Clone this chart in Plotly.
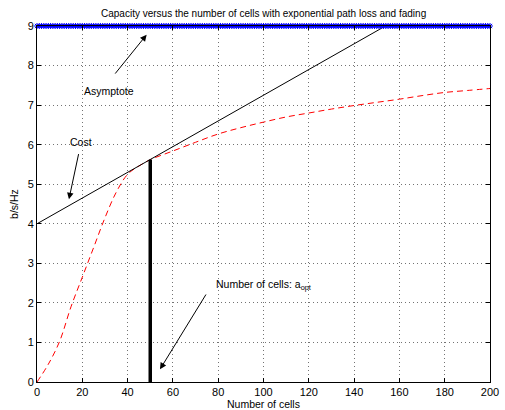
import plotly.graph_objects as go

# Capacity curve (red dashed)
cap_x = [0, 5, 10, 15, 20, 25, 30, 35, 40, 45, 50, 60, 70, 80, 90, 100,
         110, 120, 130, 140, 150, 160, 170, 180, 190, 200]
cap_y = [0, 0.45, 1.03, 1.9, 2.65, 3.4, 4.15, 4.8, 5.25, 5.46, 5.62, 5.84, 6.06, 6.27, 6.43, 6.57,
         6.70, 6.80, 6.90, 6.99, 7.07, 7.15, 7.24, 7.32, 7.37, 7.42]

# Cost line (black)
cost_x = [0, 200]
cost_y = [4.0, 10.5]

# Asymptote (blue markers)
asym_x = list(range(0, 201))
asym_y = [9.0] * len(asym_x)

# Optimal number of cells
a_opt = 50
a_opt_cap = 5.62

x_ticks = list(range(0, 201, 20))
y_ticks = list(range(0, 10))

FONT = "Liberation Sans, Arial, sans-serif"

fig = go.Figure()
fig.add_trace(go.Scatter(x=cap_x, y=cap_y, mode="lines", line=dict(color="red", width=1, dash="6px,4px"),
                         line_shape="spline", hoverinfo="skip"))
fig.add_trace(go.Scatter(x=cost_x, y=cost_y, mode="lines", line=dict(color="black", width=1), hoverinfo="skip"))
fig.add_trace(go.Scatter(x=[a_opt, a_opt], y=[0, a_opt_cap], mode="lines",
                         line=dict(color="black", width=3.5), hoverinfo="skip"))
fig.add_trace(go.Scatter(x=asym_x, y=asym_y, mode="lines+markers", cliponaxis=False,
                         line=dict(color="blue", width=1.5),
                         marker=dict(symbol="asterisk-open", size=5, color="blue", line=dict(width=1, color="blue")),
                         hoverinfo="skip"))

ann = []
def arrow(x, y, ax, ay):
    ann.append(dict(x=x, y=y, ax=ax, ay=ay, xref="x", yref="y", axref="x", ayref="y",
                    text="", showarrow=True, arrowhead=2, arrowsize=1.3, arrowwidth=1, arrowcolor="black"))
def label(x, y, t):
    ann.append(dict(x=x, y=y, xref="x", yref="y", text=t, showarrow=False,
                    xanchor="left", yanchor="middle", font=dict(family=FONT, size=10.5, color="black")))

arrow(48.4, 8.78, 34, 7.76)
label(20, 7.35, "Asymptote")
arrow(14.1, 4.62, 18.5, 5.80)
label(13.5, 6.08, "Cost")
arrow(54.3, 0.32, 75, 2.25)
label(78, 2.45, "Number of cells: a<sub>opt</sub>")

axis_common = dict(showline=True, linecolor="black", linewidth=1, mirror="ticks",
                   ticks="inside", ticklen=4, tickcolor="black", automargin=False,
                   showgrid=True, gridcolor="rgba(0,0,0,0.55)", griddash="1px,3px", gridwidth=1,
                   zeroline=False, tickfont=dict(family=FONT, size=11, color="black"))

fig.update_layout(
    width=505, height=410,
    margin=dict(l=37, r=15, t=26, b=28, autoexpand=False),
    paper_bgcolor="white", plot_bgcolor="white",
    showlegend=False,
    title=dict(text="Capacity versus the number of cells with exponential path loss and fading",
               x=0.522, xanchor="center", y=0.968, yanchor="middle", automargin=False,
               font=dict(family=FONT, size=10, color="black")),
    xaxis=dict(range=[0, 200], tickvals=x_ticks, title=dict(text="Number of cells", standoff=2,
               font=dict(family=FONT, size=10.5, color="black")), **axis_common),
    yaxis=dict(range=[0, 9], tickvals=y_ticks, title=dict(text="b/s/Hz", standoff=6,
               font=dict(family=FONT, size=10.5, color="black")), **axis_common),
    annotations=ann,
)

fig.write_html("out.html", config={"displayModeBar": False, "staticPlot": True},
               post_script="document.body.style.margin='0';document.body.style.overflow='hidden';")
